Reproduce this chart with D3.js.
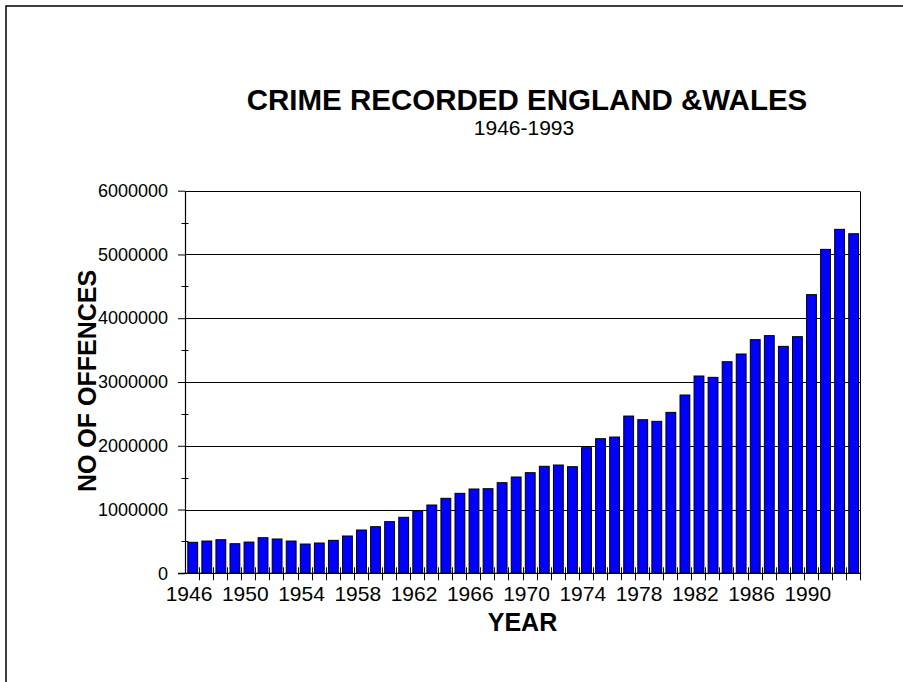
<!DOCTYPE html>
<html>
<head>
<meta charset="utf-8">
<script src="https://cdn.jsdelivr.net/npm/d3@7"></script>
<style>
  html, body { margin: 0; padding: 0; background: #fff; }
  svg { display: block; }
  text { font-family: "Liberation Sans", Arial, sans-serif; fill: #000; }
</style>
</head>
<body>
<svg id="chart" width="903" height="682"></svg>
<script>
const years = d3.range(1946, 1994).map(String);
const offences = [
  486000, 506000, 527000, 464000, 490000, 558000, 538000, 506000, 459000, 475000,
  517000, 585000, 679000, 731000, 810000, 878000, 972000, 1071000, 1176000, 1254000,
  1322000, 1327000, 1421000, 1510000, 1578000, 1678000, 1698000, 1672000, 1970000, 2111000,
  2137000, 2466000, 2409000, 2383000, 2524000, 2796000, 3094000, 3073000, 3318000, 3439000,
  3664000, 3727000, 3559000, 3711000, 4370000, 5080000, 5394000, 5325000
];
const yTicks = [0, 1000000, 2000000, 3000000, 4000000, 5000000, 6000000];
const yMinorTicks = [500000, 1500000, 2500000, 3500000, 4500000, 5500000];
const xTickLabels = ["1946","1950","1954","1958","1962","1966","1970","1974","1978","1982","1986","1990"];
const titleText = "CRIME RECORDED ENGLAND &WALES";
const subtitleText = "1946-1993";
const xTitle = "YEAR";
const yTitle = "NO OF OFFENCES";

const svg = d3.select("#chart");
const L = 185, R = 860, T = 190.7, B = 573.3;

// outer border (extends beyond right/bottom edge)
svg.append("rect").attr("x", 6).attr("y", 6).attr("width", 1000).attr("height", 1000)
  .attr("fill", "none").attr("stroke", "#000").attr("stroke-width", 1.5);

const x = d3.scaleBand().domain(years).range([L, R]).paddingInner(0.3).paddingOuter(0.15);
const y = d3.scaleLinear().domain([0, 6000000]).range([B, T]);
const step = x.step();

// gridlines
svg.append("g").selectAll("line").data(yTicks.slice(1)).join("line")
  .attr("x1", L).attr("x2", R)
  .attr("y1", d => Math.round(y(d)) + 0.5).attr("y2", d => Math.round(y(d)) + 0.5)
  .attr("stroke", "#000").attr("stroke-width", 1);

// right frame
svg.append("line").attr("x1", R + 0.5).attr("x2", R + 0.5)
  .attr("y1", Math.round(y(6000000)) + 0.5).attr("y2", B)
  .attr("stroke", "#000").attr("stroke-width", 1);

// bars
svg.append("g").selectAll("rect").data(offences).join("rect")
  .attr("x", (d, i) => x(years[i]) + 0.7)
  .attr("y", d => y(d))
  .attr("width", x.bandwidth())
  .attr("height", d => B - y(d))
  .attr("fill", "#0000FF")
  .attr("stroke", "#000")
  .attr("stroke-width", 1);

// y axis
const yAxis = d3.axisLeft(y).tickValues(yTicks).tickFormat(d3.format("d"))
  .tickSize(7).tickSizeOuter(0).tickPadding(10);
const gy = svg.append("g").attr("transform", `translate(${L},0)`).call(yAxis);
gy.select(".domain").attr("stroke", "#000").attr("stroke-width", 1.2);
gy.selectAll(".tick line").attr("stroke", "#000");
gy.selectAll(".tick text").attr("font-size", "18px").attr("font-family", "Liberation Sans, Arial, sans-serif").attr("fill", "#000");

// y minor ticks (crossing)
svg.append("g").selectAll("line").data(yMinorTicks).join("line")
  .attr("x1", L - 3.5).attr("x2", L + 3.5)
  .attr("y1", d => Math.round(y(d)) + 0.5).attr("y2", d => Math.round(y(d)) + 0.5)
  .attr("stroke", "#000");

// x axis line
svg.append("line").attr("x1", L - 7).attr("x2", R + 0.5).attr("y1", B).attr("y2", B)
  .attr("stroke", "#000").attr("stroke-width", 1.2);

// x category boundary ticks (crossing)
const boundaries = years.map(yr => x(yr) - step * x.paddingInner() / 2).slice(1).concat([R]);
svg.append("g").selectAll("line").data(boundaries).join("line")
  .attr("x1", d => Math.round(d) + 0.5).attr("x2", d => Math.round(d) + 0.5)
  .attr("y1", B - 6).attr("y2", B + 7)
  .attr("stroke", "#000");

// x tick labels
const xAxis = d3.axisBottom(x).tickValues(xTickLabels).tickSize(0).tickPadding(0);
const gx = svg.append("g").attr("transform", `translate(-3,${B})`).call(xAxis);
gx.select(".domain").remove();
gx.selectAll(".tick text").attr("font-size", "21px").attr("dy", null).attr("y", 28)
  .attr("font-family", "Liberation Sans, Arial, sans-serif").attr("fill", "#000");

// titles
svg.append("text").attr("x", 527).attr("y", 110).attr("text-anchor", "middle")
  .attr("font-size", "29.5px").attr("font-weight", "bold").text(titleText);
svg.append("text").attr("x", 524).attr("y", 135).attr("text-anchor", "middle")
  .attr("font-size", "21px").text(subtitleText);
svg.append("text").attr("x", 522.5).attr("y", 631).attr("text-anchor", "middle")
  .attr("font-size", "25px").attr("font-weight", "bold").text(xTitle);
svg.append("text").attr("transform", `translate(96,${(T + B) / 2 - 1}) rotate(-90)`)
  .attr("text-anchor", "middle")
  .attr("font-size", "25px").attr("font-weight", "bold").text(yTitle);
</script>
</body>
</html>
